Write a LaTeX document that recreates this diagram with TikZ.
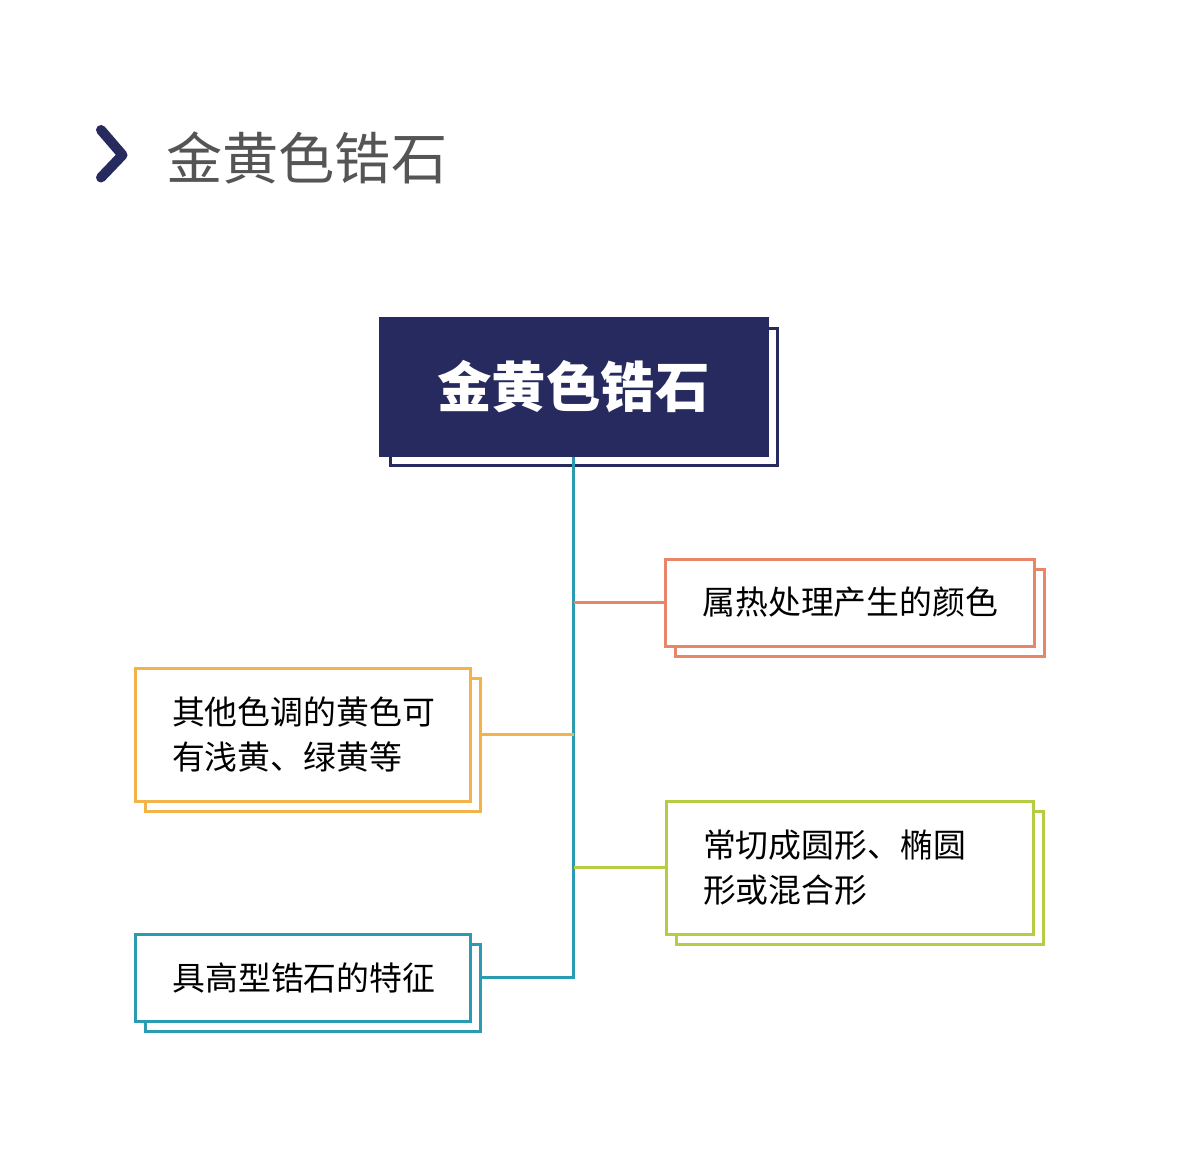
\documentclass[tikz,border=0pt]{standalone}
\usepackage{fontspec}
\setmainfont{Noto Sans CJK SC}
\usetikzlibrary{positioning, shadows}
\definecolor{navy}{HTML}{262A5E}
\definecolor{teal}{HTML}{2A9BB0}
\definecolor{orng}{HTML}{E8866A}
\definecolor{yelw}{HTML}{F2B34A}
\definecolor{grn}{HTML}{B5CC45}
\definecolor{titlegray}{HTML}{555555}
\tikzset{
    leaf/.style={draw=#1, fill=white, line width=0.06cm, align=left,
        inner xsep=0.74cm, text width=5.3cm, minimum height=1.74cm,
        font=\fontsize{18.7pt}{26pt}\selectfont,
        general shadow={shadow xshift=0.2cm, shadow yshift=-0.2cm,
            fill=white, draw=#1, line width=0.06cm}},
    link/.style={draw=#1, line width=0.06cm}
}
\begin{document}
\begin{tikzpicture}
    \useasboundingbox (0,0) rectangle (23.58,-23);
    % title
    \draw[navy, line width=0.2cm, line cap=round, line join=round]
        (2.02,-2.6) -- (2.45,-3.1) -- (2.02,-3.55);
    \node[anchor=west, text=titlegray, font=\fontsize{32pt}{32pt}\selectfont]
        (title) at (3.2,-3.15) {金黄色锆石};
    % root
    \node[fill=navy, draw=navy, line width=0.06cm, minimum width=7.74cm, minimum height=2.74cm,
        text=white, font=\fontsize{31pt}{31pt}\selectfont\bfseries,
        general shadow={shadow xshift=0.2cm, shadow yshift=-0.2cm,
            fill=white, draw=navy, line width=0.06cm}]
        (root) at (11.47,-7.73) {金黄色锆石};
    % branches
    \node[leaf=orng, text width=5.9cm] (heat) at (17.0,-12.05) {属热处理产生的颜色};
    \node[leaf=yelw, text width=5.22cm, minimum height=2.66cm] (tone) at (6.05,-14.69)
        {其他色调的黄色可\\有浅黄、绿黄等};
    \node[leaf=grn, text width=5.86cm, minimum height=2.66cm] (cut) at (16.99,-17.35)
        {常切成圆形、椭圆\\形或混合形};
    \node[leaf=teal, text width=5.22cm] (feat) at (6.06,-19.55) {具高型锆石的特征};
    % connectors
    \coordinate (trunk) at (root.south |- feat.east);
    \draw[link=teal] (root.south) -- (trunk) -- ([xshift=0.2cm]feat.east);
    \draw[link=orng] (root.south |- heat.west) -- (heat.west);
    \draw[link=yelw] ([xshift=0.2cm]tone.east) -- (root.south |- tone.east);
    \draw[link=grn] (root.south |- cut.west) -- (cut.west);
\end{tikzpicture}
\end{document}
